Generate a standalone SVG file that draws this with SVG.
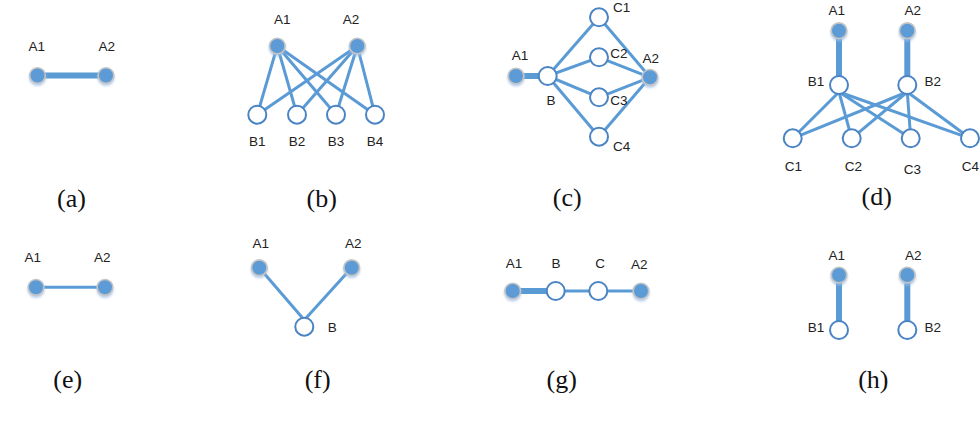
<svg xmlns="http://www.w3.org/2000/svg" width="980" height="424" viewBox="0 0 980 424">
<defs>
<filter id="sh" x="-50%" y="-50%" width="200%" height="200%">
<feGaussianBlur in="SourceAlpha" stdDeviation="1.2"/>
<feOffset dx="0" dy="1.5" result="b"/>
<feFlood flood-color="#9dbde6" flood-opacity="0.7"/>
<feComposite in2="b" operator="in"/>
<feMerge><feMergeNode/><feMergeNode in="SourceGraphic"/></feMerge>
</filter>
</defs>
<style>
.fn{fill:#5b9bd5;stroke:#c4c4c4;stroke-width:1.6;filter:url(#sh)}
.on{fill:#ffffff;stroke:#4a84c4;stroke-width:2}
.e{stroke:#5b9bd5;stroke-width:3;fill:none}
.et{stroke:#5b9bd5;stroke-width:6;fill:none}
.l{font-family:"Liberation Sans",Arial,sans-serif;font-size:13.5px;fill:#222;text-anchor:middle}
.c{font-family:"Liberation Serif","Times New Roman",serif;font-size:26px;fill:#111;text-anchor:middle}
</style>
<rect width="980" height="424" fill="#ffffff"/>

<g id="connectors">
<line class="et" x1="37.5" y1="75.5" x2="106" y2="75.5"/>
<line class="e" x1="277.3" y1="46" x2="257.3" y2="114.7"/>
<line class="e" x1="277.3" y1="46" x2="297" y2="114.7"/>
<line class="e" x1="277.3" y1="46" x2="336" y2="114.7"/>
<line class="e" x1="277.3" y1="46" x2="375" y2="114.7"/>
<line class="e" x1="357.3" y1="46" x2="257.3" y2="114.7"/>
<line class="e" x1="357.3" y1="46" x2="297" y2="114.7"/>
<line class="e" x1="357.3" y1="46" x2="336" y2="114.7"/>
<line class="e" x1="357.3" y1="46" x2="375" y2="114.7"/>
<line class="et" x1="516" y1="76" x2="547.7" y2="76"/>
<line class="e" x1="547.7" y1="76" x2="599" y2="17.3"/>
<line class="e" x1="547.7" y1="76" x2="599" y2="57.3"/>
<line class="e" x1="547.7" y1="76" x2="599" y2="97.3"/>
<line class="e" x1="547.7" y1="76" x2="599" y2="136.7"/>
<line class="e" x1="599" y1="17.3" x2="650" y2="77.3"/>
<line class="e" x1="599" y1="57.3" x2="650" y2="77.3"/>
<line class="e" x1="599" y1="97.3" x2="650" y2="77.3"/>
<line class="e" x1="599" y1="136.7" x2="650" y2="77.3"/>
<line class="et" x1="839" y1="30.7" x2="839" y2="85"/>
<line class="et" x1="907.3" y1="30.7" x2="907.3" y2="85"/>
<line class="e" x1="839" y1="92" x2="792.7" y2="138.3"/>
<line class="e" x1="839" y1="92" x2="851.7" y2="138.3"/>
<line class="e" x1="839" y1="92" x2="910.7" y2="138.3"/>
<line class="e" x1="839" y1="92" x2="970" y2="138.3"/>
<line class="e" x1="907.3" y1="92" x2="792.7" y2="138.3"/>
<line class="e" x1="907.3" y1="92" x2="851.7" y2="138.3"/>
<line class="e" x1="907.3" y1="92" x2="910.7" y2="138.3"/>
<line class="e" x1="907.3" y1="92" x2="970" y2="138.3"/>
<line class="e" x1="36" y1="287.3" x2="105" y2="287.3"/>
<line class="e" stroke-width="3.5" x1="259.3" y1="267.7" x2="304.3" y2="320"/>
<line class="e" stroke-width="3.5" x1="351.7" y1="267.7" x2="304.3" y2="320"/>
<line class="et" x1="512.7" y1="291" x2="555.7" y2="291"/>
<line class="e" x1="555.7" y1="291" x2="598.3" y2="291"/>
<line class="e" x1="598.3" y1="291" x2="641" y2="291"/>
<line class="et" x1="839" y1="275" x2="839" y2="330"/>
<line class="et" x1="907.3" y1="275" x2="907.3" y2="330"/>
</g>

<g id="a-A1"><circle class="fn" cx="37.5" cy="75.5" r="7.8"/><text class="l" x="36.7" y="51">A1</text></g>
<g id="a-A2"><circle class="fn" cx="106" cy="75.5" r="7.8"/><text class="l" x="106.7" y="51">A2</text></g>
<text class="c" x="71.5" y="207">(a)</text>

<g id="b-A1"><circle class="fn" cx="277.3" cy="46" r="7.8"/><text class="l" x="282.3" y="24">A1</text></g>
<g id="b-A2"><circle class="fn" cx="357.3" cy="46" r="7.8"/><text class="l" x="351" y="24">A2</text></g>
<g id="b-B1"><circle class="on" cx="257.3" cy="114.7" r="9"/><text class="l" x="257.3" y="146">B1</text></g>
<g id="b-B2"><circle class="on" cx="297" cy="114.7" r="9"/><text class="l" x="297" y="146">B2</text></g>
<g id="b-B3"><circle class="on" cx="336" cy="114.7" r="9"/><text class="l" x="336" y="146">B3</text></g>
<g id="b-B4"><circle class="on" cx="375" cy="114.7" r="9"/><text class="l" x="375" y="146">B4</text></g>
<text class="c" x="321.7" y="207">(b)</text>

<g id="c-A1"><circle class="fn" cx="516" cy="76" r="7.8"/><text class="l" x="520" y="60">A1</text></g>
<g id="c-B"><circle class="on" cx="547.7" cy="76" r="9"/><text class="l" x="551" y="105">B</text></g>
<g id="c-C1"><circle class="on" cx="599" cy="17.3" r="9"/><text class="l" x="621.7" y="12">C1</text></g>
<g id="c-C2"><circle class="on" cx="599" cy="57.3" r="9"/><text class="l" x="619" y="58">C2</text></g>
<g id="c-C3"><circle class="on" cx="599" cy="97.3" r="9"/><text class="l" x="619" y="105">C3</text></g>
<g id="c-C4"><circle class="on" cx="599" cy="136.7" r="9"/><text class="l" x="621.7" y="151">C4</text></g>
<g id="c-A2"><circle class="fn" cx="650" cy="77.3" r="7.8"/><text class="l" x="650.7" y="63">A2</text></g>
<text class="c" x="567.3" y="206">(c)</text>

<g id="d-A1"><circle class="fn" cx="839" cy="30.7" r="7.8"/><text class="l" x="836.7" y="15">A1</text></g>
<g id="d-A2"><circle class="fn" cx="907.3" cy="30.7" r="7.8"/><text class="l" x="912.7" y="15">A2</text></g>
<g id="d-B1"><circle class="on" cx="839" cy="85" r="9"/><text class="l" x="816" y="86">B1</text></g>
<g id="d-B2"><circle class="on" cx="907.3" cy="85" r="9"/><text class="l" x="932.7" y="86">B2</text></g>
<g id="d-C1"><circle class="on" cx="792.7" cy="138.3" r="9"/><text class="l" x="793.3" y="171">C1</text></g>
<g id="d-C2"><circle class="on" cx="851.7" cy="138.3" r="9"/><text class="l" x="853.3" y="171">C2</text></g>
<g id="d-C3"><circle class="on" cx="910.7" cy="138.3" r="9"/><text class="l" x="912.3" y="174">C3</text></g>
<g id="d-C4"><circle class="on" cx="970" cy="138.3" r="9"/><text class="l" x="970.5" y="171">C4</text></g>
<text class="c" x="876.7" y="205">(d)</text>

<g id="e-A1"><circle class="fn" cx="36" cy="287.3" r="7.8"/><text class="l" x="32.7" y="261.5">A1</text></g>
<g id="e-A2"><circle class="fn" cx="105" cy="287.3" r="7.8"/><text class="l" x="102.3" y="261.5">A2</text></g>
<text class="c" x="67.7" y="388">(e)</text>

<g id="f-A1"><circle class="fn" cx="259.3" cy="267.7" r="7.8"/><text class="l" x="260.7" y="248">A1</text></g>
<g id="f-A2"><circle class="fn" cx="351.7" cy="267.7" r="7.8"/><text class="l" x="353.3" y="248">A2</text></g>
<g id="f-B"><circle class="on" cx="304.3" cy="326.7" r="9"/><text class="l" x="332.3" y="332">B</text></g>
<text class="c" x="317.7" y="388">(f)</text>

<g id="g-A1"><circle class="fn" cx="512.7" cy="291" r="7.8"/><text class="l" x="514" y="267.5">A1</text></g>
<g id="g-B"><circle class="on" cx="555.7" cy="291" r="9"/><text class="l" x="556" y="267.5">B</text></g>
<g id="g-C"><circle class="on" cx="598.3" cy="291" r="9"/><text class="l" x="600" y="267.5">C</text></g>
<g id="g-A2"><circle class="fn" cx="641" cy="291" r="7.8"/><text class="l" x="639.3" y="268.5">A2</text></g>
<text class="c" x="561.7" y="388">(g)</text>

<g id="h-A1"><circle class="fn" cx="839" cy="275" r="7.8"/><text class="l" x="836.7" y="260">A1</text></g>
<g id="h-A2"><circle class="fn" cx="907.3" cy="275" r="7.8"/><text class="l" x="913.3" y="260">A2</text></g>
<g id="h-B1"><circle class="on" cx="839" cy="330" r="9"/><text class="l" x="816" y="332">B1</text></g>
<g id="h-B2"><circle class="on" cx="907.3" cy="330" r="9"/><text class="l" x="932.7" y="332">B2</text></g>
<text class="c" x="873.3" y="388">(h)</text>
</svg>
